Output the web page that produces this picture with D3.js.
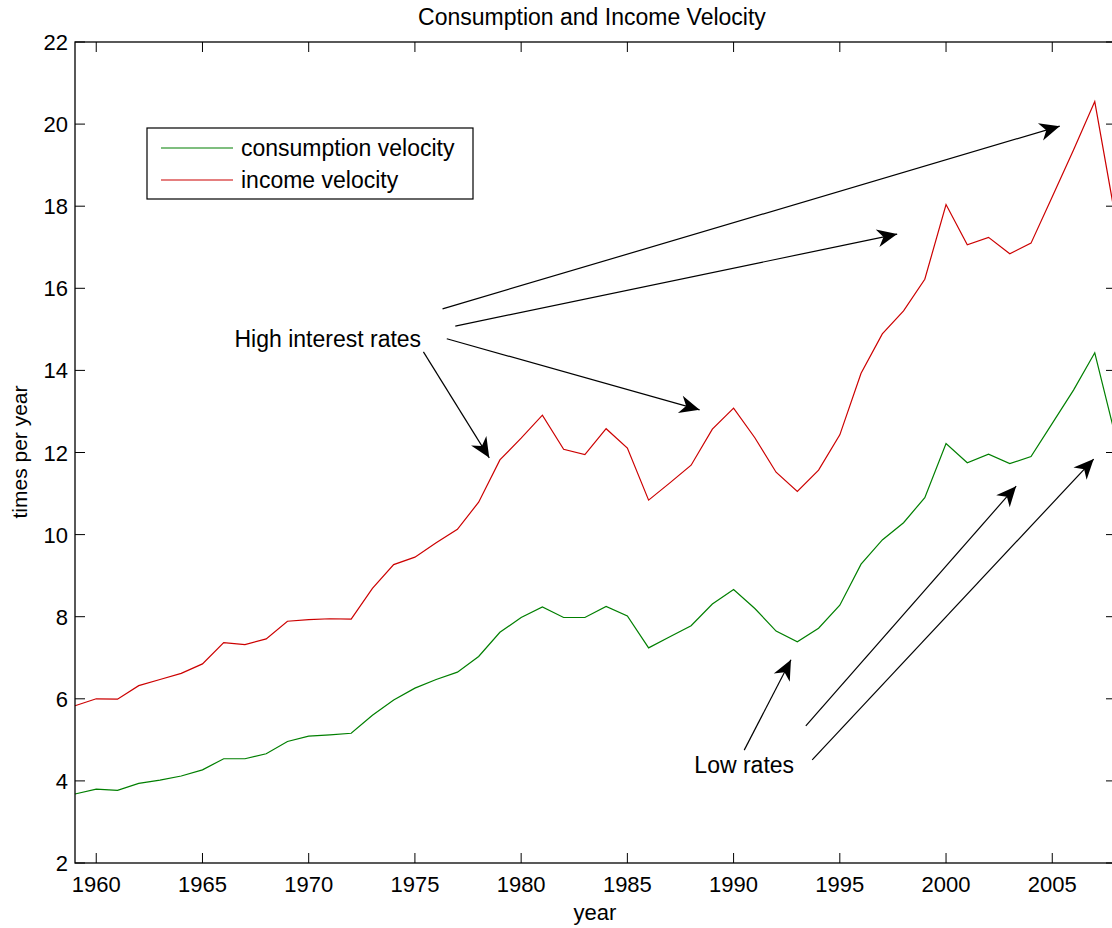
<!DOCTYPE html>
<html>
<head>
<meta charset="utf-8">
<script src="https://d3js.org/d3.v7.min.js"></script>
<style>
  body { margin: 0; background: #fff; }
  svg { font-family: "Liberation Sans", Arial, sans-serif; display: block; }
</style>
</head>
<body>
<div id="chart"></div>
<script>
  // years and series
  var years = d3.range(1959, 2009);
  var consumption = [3.68, 3.80, 3.77, 3.94, 4.02, 4.12, 4.27, 4.54, 4.54, 4.66,
    4.96, 5.09, 5.12, 5.16, 5.60, 5.97, 6.26, 6.47, 6.65, 7.03,
    7.62, 7.98, 8.24, 7.98, 7.98, 8.25, 8.02, 7.24, 7.51, 7.78,
    8.31, 8.66, 8.20, 7.65, 7.39, 7.72, 8.28, 9.28, 9.87, 10.29,
    10.90, 12.22, 11.75, 11.96, 11.73, 11.90, 12.71, 13.52, 14.43, 12.34];
  var income = [5.83, 6.00, 5.99, 6.32, 6.47, 6.62, 6.85, 7.37, 7.32, 7.46,
    7.89, 7.93, 7.95, 7.94, 8.69, 9.27, 9.45, 9.80, 10.13, 10.79,
    11.82, 12.35, 12.91, 12.08, 11.95, 12.58, 12.11, 10.84, 11.26, 11.69,
    12.57, 13.08, 12.36, 11.52, 11.05, 11.57, 12.43, 13.93, 14.89, 15.45,
    16.22, 18.04, 17.06, 17.24, 16.84, 17.10, 18.23, 19.37, 20.55, 17.64];
  var xTicks = [1960, 1965, 1970, 1975, 1980, 1985, 1990, 1995, 2000, 2005];
  var yTicks = [2, 4, 6, 8, 10, 12, 14, 16, 18, 20, 22];
  var seriesNames = ['consumption velocity', 'income velocity'];
  var seriesColors = ['#007f00', '#cc0000'];

  // annotations in data units: [x1, y1, x2, y2]
  var highLabel = {text: 'High interest rates', x: 1970.9, y: 14.77};
  var highArrows = [
    [1976.3, 15.50, 2005.35, 19.95],
    [1976.9, 15.08, 1997.7, 17.32],
    [1976.5, 14.77, 1988.4, 13.04],
    [1975.4, 14.45, 1978.5, 11.87]
  ];
  var lowLabel = {text: 'Low rates', x: 1990.5, y: 4.39};
  var lowArrows = [
    [1990.5, 4.75, 1992.7, 6.95],
    [1993.4, 5.34, 2003.3, 11.18],
    [1993.7, 4.51, 2006.95, 11.84]
  ];

  var W = 1112, H = 928;
  var svg = d3.select('#chart').append('svg').attr('width', W).attr('height', H);

  var x = d3.scaleLinear().domain([1959, 2008]).range([75, 1116]);
  var y = d3.scaleLinear().domain([2, 22]).range([863, 42]);

  var plot = svg.append('g');

  var line = d3.line()
    .x(function(d, i){ return x(years[i]); })
    .y(function(d){ return y(d); });

  [consumption, income].forEach(function(s, k){
    plot.append('path')
      .attr('d', line(s))
      .attr('fill', 'none')
      .attr('stroke', seriesColors[k])
      .attr('stroke-width', 1.2);
  });

  // axes box, ticks inward on all sides
  svg.append('rect')
    .attr('x', x.range()[0]).attr('y', y.range()[1])
    .attr('width', x.range()[1] - x.range()[0])
    .attr('height', y.range()[0] - y.range()[1])
    .attr('fill', 'none').attr('stroke', '#000').attr('stroke-width', 1.3);

  var tl = 10;
  xTicks.forEach(function(t){
    svg.append('line').attr('x1', x(t)).attr('x2', x(t)).attr('y1', y(2)).attr('y2', y(2) - tl).attr('stroke', '#000');
    svg.append('line').attr('x1', x(t)).attr('x2', x(t)).attr('y1', y(22)).attr('y2', y(22) + tl).attr('stroke', '#000');
    svg.append('text').attr('x', x(t)).attr('y', y(2) + 29)
      .attr('text-anchor', 'middle').attr('font-size', 22).text(t);
  });
  yTicks.forEach(function(t){
    svg.append('line').attr('x1', x.range()[0]).attr('x2', x.range()[0] + tl).attr('y1', y(t)).attr('y2', y(t)).attr('stroke', '#000');
    svg.append('line').attr('x1', x.range()[1]).attr('x2', x.range()[1] - tl).attr('y1', y(t)).attr('y2', y(t)).attr('stroke', '#000');
    svg.append('text').attr('x', x.range()[0] - 7).attr('y', y(t) + 8)
      .attr('text-anchor', 'end').attr('font-size', 22).text(t);
  });

  svg.append('text').attr('x', 592).attr('y', 25).attr('text-anchor', 'middle')
    .attr('font-size', 23).text('Consumption and Income Velocity');
  svg.append('text').attr('x', 595).attr('y', 920).attr('text-anchor', 'middle')
    .attr('font-size', 22).text('year');
  svg.append('text').attr('transform', 'translate(27,452) rotate(-90)')
    .attr('text-anchor', 'middle').attr('font-size', 21).text('times per year');

  // legend
  var lg = svg.append('g');
  lg.append('rect').attr('x', 147).attr('y', 128).attr('width', 326).attr('height', 71)
    .attr('fill', '#fff').attr('stroke', '#000').attr('stroke-width', 1.2);
  seriesNames.forEach(function(n, k){
    var yy = 148 + k * 32;
    lg.append('line').attr('x1', 161).attr('x2', 233).attr('y1', yy).attr('y2', yy)
      .attr('stroke', seriesColors[k]).attr('stroke-width', 1.2);
    lg.append('text').attr('x', 241).attr('y', yy + 8).attr('font-size', 23).text(n);
  });

  // arrows
  function arrow(a){
    var x1 = x(a[0]), y1 = y(a[1]), x2 = x(a[2]), y2 = y(a[3]);
    var ang = Math.atan2(y2 - y1, x2 - x1) * 180 / Math.PI;
    svg.append('line').attr('x1', x1).attr('y1', y1).attr('x2', x2).attr('y2', y2)
      .attr('stroke', '#000').attr('stroke-width', 1.2);
    svg.append('path')
      .attr('d', 'M0,0 L-20,-9 L-14,0 L-20,9 Z')
      .attr('transform', 'translate(' + x2 + ',' + y2 + ') rotate(' + ang + ')')
      .attr('fill', '#000');
  }
  highArrows.forEach(arrow);
  lowArrows.forEach(arrow);

  [highLabel, lowLabel].forEach(function(l){
    svg.append('text').attr('x', x(l.x)).attr('y', y(l.y) + 8)
      .attr('text-anchor', 'middle').attr('font-size', 23).text(l.text);
  });
</script>
</body>
</html>
